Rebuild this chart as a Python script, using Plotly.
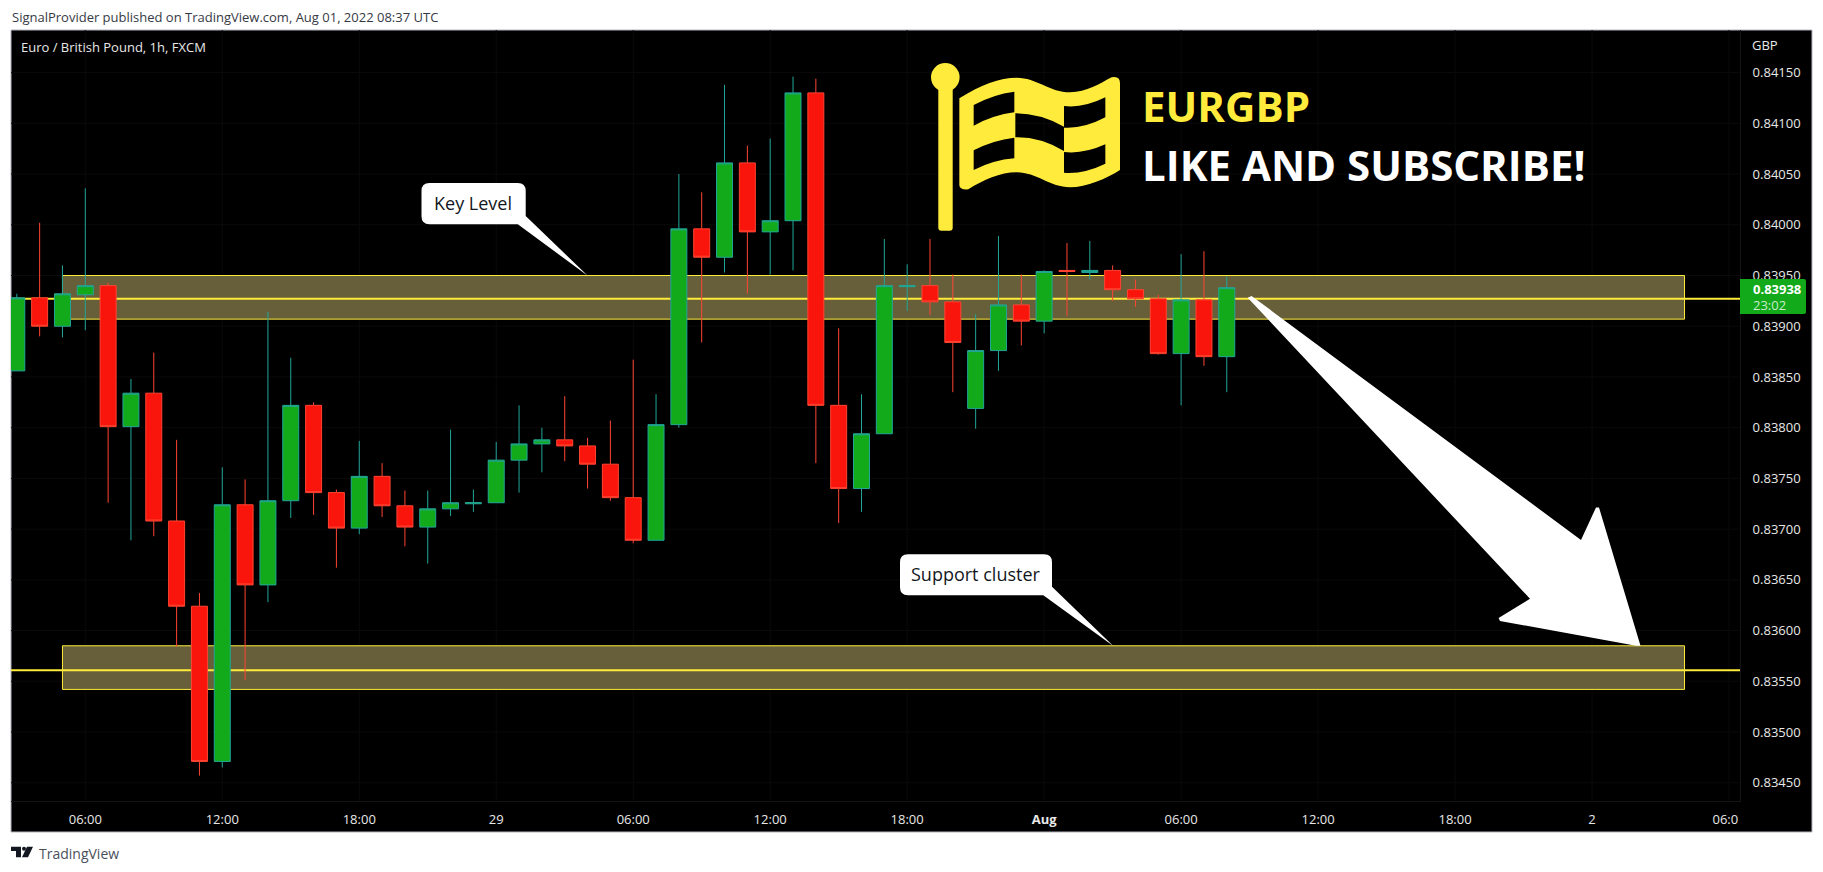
import plotly.graph_objects as go

# ---------- data ----------
bar_index = list(range(54))
opens = [.83856,.83928,.83900,.83931,.83940,.83801,.83834,.83708,.83624,.83471,
         .83724,.83645,.83728,.83822,.83736,.83701,.83752,.83723,.83702,.83720,
         .83725,.83726,.83768,.83784,.83788,.83782,.83764,.83731,.83689,.83803,
         .83996,.83968,.84061,.83993,.84004,.84130,.83822,.83740,.83794,.83939,
         .83940,.83924,.83819,.83876,.83921,.83905,.83955,.83953,.83955,.83936,
         .83927,.83873,.83926,.83870]
closes = [.83928,.83900,.83932,.83940,.83801,.83834,.83708,.83624,.83471,.83724,
          .83645,.83728,.83822,.83736,.83701,.83752,.83723,.83702,.83720,.83726,
          .83726,.83768,.83784,.83788,.83782,.83764,.83731,.83689,.83803,.83996,
          .83968,.84061,.83993,.84004,.84130,.83822,.83740,.83794,.83940,.83940,
          .83924,.83884,.83876,.83921,.83905,.83954,.83954,.83955,.83936,.83927,
          .83873,.83926,.83870,.83938]
highs = [.83932,.84002,.83960,.84036,.83943,.83848,.83874,.83788,.83637,.83761,
         .83749,.83914,.83869,.83825,.83739,.83787,.83765,.83738,.83738,.83798,
         .83739,.83786,.83822,.83800,.83831,.83790,.83807,.83867,.83833,.84050,
         .84032,.84138,.84078,.84085,.84146,.84144,.83898,.83833,.83986,.83961,
         .83986,.83951,.83912,.83989,.83951,.83955,.83982,.83984,.83960,.83946,
         .83931,.83971,.83974,.83949]
lows = [.83856,.83890,.83889,.83896,.83726,.83689,.83693,.83584,.83457,.83465,
        .83551,.83628,.83711,.83714,.83662,.83695,.83712,.83683,.83666,.83713,
        .83717,.83726,.83736,.83756,.83767,.83740,.83728,.83686,.83689,.83800,
        .83884,.83953,.83932,.83951,.83955,.83765,.83706,.83717,.83794,.83915,
        .83911,.83835,.83799,.83856,.83881,.83893,.83910,.83946,.83925,.83919,
        .83872,.83822,.83861,.83835]
x_tick_positions = [3, 9, 15, 21, 27, 33, 39, 45, 51, 57, 63, 69, 75]
x_tick_labels = ["06:00", "12:00", "18:00", "29", "06:00", "12:00", "18:00",
                 "<b>Aug</b>", "06:00", "12:00", "18:00", "2", "06:0\u2007"]
y_ticks = [.8345, .8350, .8355, .8360, .8365, .8370, .8375, .8380, .8385, .8390,
           .8395, .8400, .8405, .8410, .8415]
y_tick_labels = ["%.5f" % v for v in y_ticks]
zones = [(.83950, .83907), (.83585, .83542)]
levels = [.83927, .83561]
zone_start, zone_end = 2.0, 73.05
last_price_text, countdown_text = "0.83938", "23:02"

# ---------- layout geometry ----------
W, H = 1823, 872
L, R, T, B = 11, 1740, 30, 801
YELLOW = "#FFEB3B"
UI_FONT = "Open Sans"
X_RANGE = [-0.254, 75.48]
Y_RANGE = [.83432, .84192]


def X(x):
    return (x - L) / (R - L)


def Y(y):
    return (B - y) / (B - T)


def path(cmds):
    out = []
    for c in cmds:
        if isinstance(c, str):
            out.append(c)
        else:
            out.append("%.5f,%.5f" % (X(c[0]), Y(c[1])))
    return " ".join(out)


def deco(cmds, color, line=None, layer="above"):
    return dict(type="path", xref="paper", yref="paper", layer=layer, path=path(cmds),
                fillcolor=color, line=dict(color=line or color, width=0 if line is None else 1))


def rrect(x0, y0, x1, y1, r):
    return ["M", (x0 + r, y0), "L", (x1 - r, y0), "Q", (x1, y0), (x1, y0 + r),
            "L", (x1, y1 - r), "Q", (x1, y1), (x1 - r, y1),
            "L", (x0 + r, y1), "Q", (x0, y1), (x0, y1 - r),
            "L", (x0, y0 + r), "Q", (x0, y0), (x0 + r, y0), "Z"]


def callout(x0, y0, x1, y1, a, b, tip):
    r = 8
    return ["M", (x0 + r, y0), "L", (x1 - r, y0), "Q", (x1, y0), (x1, y0 + r),
            "L", b, "L", tip, "L", a,
            "L", (x0 + r, y1), "Q", (x0, y1), (x0, y1 - r),
            "L", (x0, y0 + r), "Q", (x0, y0), (x0 + r, y0), "Z"]


def flag_pt(zx, zy):
    return (920 + zx / 3, 55 + zy / 3)


def F(*pairs):
    return [flag_pt(*p) for p in pairs]


flag_cmds = ["M", *F((118, 130)), "C", *F((180, 90), (240, 68), (290, 68)),
             "C", *F((350, 68), (390, 112), (450, 112)),
             "C", *F((500, 112), (540, 85), (575, 67)),
             "Q", *F((600, 62), (600, 85)), "L", *F((600, 345)),
             "C", *F((560, 370), (500, 397), (450, 397)),
             "C", *F((390, 397), (350, 352), (290, 352)),
             "C", *F((240, 352), (190, 375), (145, 403)),
             "Q", *F((118, 405), (118, 390)), "Z",
             "M", *F((161, 150)), "Q", *F((220, 118), (283, 110)), "L", *F((283, 172)),
             "Q", *F((220, 180), (161, 212)), "Z",
             "M", *F((286, 175)), "Q", *F((360, 175), (432, 215)), "L", *F((432, 288)),
             "Q", *F((360, 245), (286, 247)), "Z",
             "M", *F((432, 153)), "Q", *F((490, 160), (556, 127)), "L", *F((556, 187)),
             "Q", *F((490, 222), (432, 218)), "Z",
             "M", *F((161, 286)), "Q", *F((220, 255), (283, 248)), "L", *F((283, 310)),
             "Q", *F((220, 315), (161, 345)), "Z",
             "M", *F((432, 291)), "Q", *F((490, 298), (556, 268)), "L", *F((556, 326)),
             "Q", *F((490, 358), (432, 353)), "Z"]

shapes = [
    # dark canvas and frame
    dict(type="rect", xref="paper", yref="paper", layer="below", x0=X(11), x1=X(1812), y0=Y(30), y1=Y(832),
         fillcolor="#000000", line=dict(color="#B2B5BE", width=1)),
]
# very faint grid, kept underneath the zones
for v in x_tick_positions:
    shapes.append(dict(type="line", xref="x", yref="y", layer="below", x0=v, x1=v, y0=Y_RANGE[0], y1=Y_RANGE[1],
                       line=dict(color="#0A0A0A", width=1)))
for v in y_ticks:
    shapes.append(dict(type="line", xref="x", yref="y", layer="below", x0=X_RANGE[0], x1=X_RANGE[1], y0=v, y1=v,
                       line=dict(color="#0A0A0A", width=1)))
for top, bottom in zones:
    shapes.append(dict(type="rect", xref="x", yref="y", layer="below", x0=zone_start, x1=zone_end,
                       y0=bottom, y1=top, fillcolor="#665F3A", line=dict(color=YELLOW, width=1)))
for lvl in levels:
    shapes.append(dict(type="line", xref="x", yref="y", layer="below", x0=X_RANGE[0], x1=X_RANGE[1], y0=lvl, y1=lvl,
                       line=dict(color=YELLOW, width=2)))

shapes += [
    # big arrow
    deco(["M", (1247.7, 297.7), "L", (1251.6, 296), "L", (1581, 540), "L", (1596, 507.5), "L", (1599, 507.5),
          "L", (1640.5, 645.7), "L", (1636, 645.7), "L", (1500, 621), "L", (1498.6, 618), "L", (1530, 598.7), "Z"],
         "#FFFFFF"),
    # callouts
    deco(callout(421.5, 183, 525.7, 224.3, (517.8, 224.3), (525.7, 216), (587.7, 275.7)), "#FFFFFF"),
    deco(callout(900, 554.3, 1052, 595.3, (1043.3, 595.3), (1052, 586.7), (1113.3, 646)), "#FFFFFF"),
    # flag logo
    dict(type="circle", xref="paper", yref="paper", layer="above", x0=X(931), x1=X(959.6), y0=Y(63), y1=Y(91.6),
         fillcolor=YELLOW, line=dict(width=0)),
    deco(rrect(938.3, 80, 952.7, 230.7, 3), YELLOW),
    deco(flag_cmds, YELLOW),
    # last-price tag
    deco(["M", (1740, 279), "L", (1804, 279), "Q", (1806, 279), (1806, 281), "L", (1806, 312),
          "Q", (1806, 314), (1804, 314), "L", (1740, 314), "Z"], "#12A91B"),
    # TradingView mark
    deco(["M", (11, 846.7), "L", (21, 846.7), "L", (21, 857.3), "L", (16, 857.3), "L", (16, 851), "L", (11, 851), "Z"],
         "#131722"),
    deco(["M", (27, 846.7), "L", (33, 846.7), "L", (28, 857.3), "L", (22, 857.3), "Z"], "#131722"),
]
shapes.append(dict(type="circle", xref="paper", yref="paper", layer="above", x0=X(22), x1=X(26), y0=Y(846.7),
                   y1=Y(850.7), fillcolor="#131722", line=dict(width=0)))


def note(text, x, y, size, color, anchor="left", weight=None, family=UI_FONT):
    f = dict(family=family, size=size, color=color)
    if weight:
        f["weight"] = weight
    return dict(text=text, xref="paper", yref="paper", x=X(x), y=Y(y), xanchor=anchor, yanchor="middle",
                showarrow=False, font=f)


annotations = [
    note("SignalProvider published on TradingView.com, Aug 01, 2022 08:37 UTC", 10, 16.5, 13, "#363A45"),
    note("Euro / British Pound, 1h, FXCM", 19, 47, 13, "#E8E8E8"),
    note("GBP", 1750, 45, 13, "#E8E8E8"),
    note("Key Level", 473.5, 203, 18, "#131722", "center"),
    note("Support cluster", 976, 574, 18, "#131722", "center"),
    note("EURGBP", 1139.5, 106, 42, YELLOW, weight=700),
    note("LIKE AND SUBSCRIBE!", 1139.5, 164, 42, "#FFFFFF", weight=700),
    note(last_price_text, 1751, 288.5, 13, "#FFFFFF", weight=700),
    note(countdown_text, 1751, 305, 13, "#C8EBC9"),
    note("TradingView", 37, 853, 14, "#4A4F5C"),
]

fig = go.Figure(go.Candlestick(
    x=bar_index, open=opens, high=highs, low=lows, close=closes,
    increasing=dict(line=dict(color="#22A699", width=1), fillcolor="#12A91B"),
    decreasing=dict(line=dict(color="#FF4433", width=1), fillcolor="#F9150B"),
    whiskerwidth=0, showlegend=False, hoverinfo="skip"))

fig.update_layout(
    width=W, height=H, autosize=False,
    margin=dict(l=L, r=W - R, t=T, b=H - B, pad=0),
    paper_bgcolor="#FFFFFF", plot_bgcolor="#000000",
    boxgap=0.3, boxgroupgap=0,
    showlegend=False, shapes=shapes, annotations=annotations,
    xaxis=dict(range=X_RANGE, rangeslider=dict(visible=False), tickmode="array",
               tickvals=x_tick_positions, ticktext=x_tick_labels, showgrid=False,
               zeroline=False, showline=True, linecolor="#141414", ticks="outside", ticklen=6, tickcolor="#000000",
               tickfont=dict(family=UI_FONT, size=13, color="#E8E8E8")),
    yaxis=dict(range=Y_RANGE, side="right", tickmode="array", tickvals=y_ticks, ticktext=y_tick_labels,
               showgrid=False, zeroline=False, showline=True, linecolor="#141414",
               ticks="outside", ticklen=9, tickcolor="#000000",
               tickfont=dict(family=UI_FONT, size=13, color="#E8E8E8")),
)

fig.write_html("out.html", config=dict(displayModeBar=False),
               post_script="document.body.style.margin='0';document.body.style.overflow='hidden';")
